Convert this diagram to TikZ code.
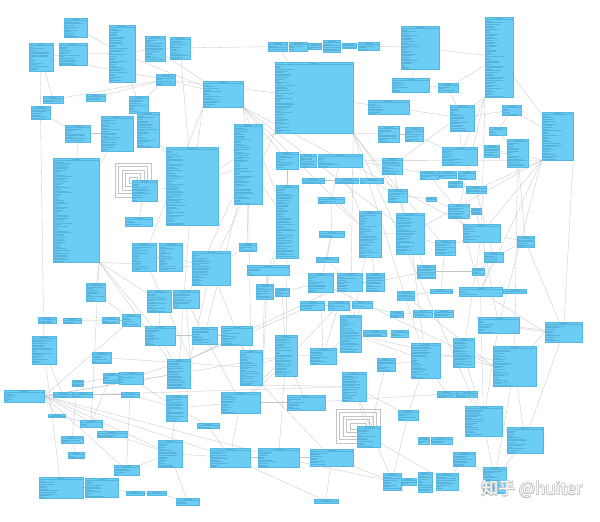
\documentclass[tikz,border=0pt]{standalone}
\usepackage{fontspec}
\usepackage{xcolor}
\definecolor{azulclase}{HTML}{6CCDF4}
\definecolor{azulborde}{HTML}{55B8E3}
\definecolor{azultexto}{HTML}{22628F}
\definecolor{grislinea}{HTML}{C2C4C8}
\newfontfamily\cjk{Noto Sans CJK SC}
\usepackage{tikz}
\usetikzlibrary{fit, backgrounds}

\newcommand{\marca}[1]{%
  \foreach \dx/\dy in {-.6/0,.6/0,0/-.6,0/.6,.5/.5,-.5/-.5,.5/-.5,-.5/.5}
    \node[wm, text=gray!50] at ([shift={(\dx,\dy)}]#1) {\cjk 知乎 @huiter};
  \node[wm, text=white] at (#1) {\cjk 知乎 @huiter};}

\begin{document}
\pgfmathsetseed{11}
\begin{tikzpicture}[
  x=1pt, y=-1pt,
  txt/.style={azultexto, opacity=0.25, line width=0.3pt},
  cls/.style={
    rectangle, draw=azulborde, fill=azulclase,
    line width=0.3pt, inner sep=0pt,
    path picture={
      \draw[txt] ([xshift=-4pt,yshift=-1.3pt]path picture bounding box.north) -- ++(8,0);
      \draw[txt] ([yshift=-2.6pt]path picture bounding box.north west)
        -- ([yshift=-2.6pt]path picture bounding box.north east);
      \foreach \k in {0,...,62}{
        \pgfmathsetmacro\len{3+16*rnd}
        \draw[txt] ([xshift=1pt,yshift=-4pt-\k*1.6pt]path picture bounding box.north west)
          -- ++(\len,0);
      }
    }
  },
  edge/.style={grislinea, line width=0.3pt},
  wm/.style={font=\fontsize{17}{17}\selectfont, inner sep=0pt}
]
  \useasboundingbox (0,0) rectangle (600,522);

  % clases
  \foreach \n/\xa/\ya/\xb/\yb in {
     1/64/18/87/37,     2/109/25/135/82,    3/29/43/53/71,      4/59/43/87/65,
     5/145/36/165/61,   6/170/37/190/59,    7/268/42/287/51,    8/289/42/307/51,
     9/308/43/321/49,   10/323/40/340/52,   11/342/43/356/48,   12/358/42/379/50,
     13/275/62/353/133, 14/401/26/439/69,   15/485/17/513/97,   16/156/74/175/85,
     17/203/81/243/107, 18/43/96/63/103,    19/86/94/105/101,   20/129/96/148/113,
     21/31/106/50/119,  22/65/125/90/142,   23/101/116/133/151, 24/137/112/159/147,
     25/392/78/429/92,  26/438/83/458/92,   27/368/100/409/114, 28/450/105/474/131,
     29/502/105/521/115,30/542/112/573/160, 31/234/124/262/204, 32/378/126/399/142,
     33/405/127/423/141,34/489/127/506/135, 35/484/145/499/157, 36/507/139/528/167,
     37/442/147/477/165,38/276/152/298/169, 39/300/154/316/167, 40/318/154/362/167,
     41/382/158/402/174,42/53/158/99/262,   43/166/147/218/225, 44/132/180/157/201,
     45/276/185/298/258,46/302/178/324/183, 47/335/178/358/183, 48/360/178/383/183,
     49/420/171/438/179,50/439/171/456/178, 51/458/171/475/179, 52/448/181/462/187,
     53/466/186/486/193,54/388/189/407/202, 55/426/197/436/201, 56/318/197/344/203,
     57/448/204/469/218,58/471/208/481/214, 59/359/211/381/257, 60/396/213/424/254,
     61/125/217/152/226,62/463/224/500/242, 63/517/236/534/247, 64/319/231/344/237,
     65/435/240/455/255,66/239/243/256/251, 67/132/243/156/271, 68/159/243/182/271,
     69/192/251/230/285,70/484/252/503/262, 71/316/257/338/262, 72/247/265/289/275,
     73/417/265/435/278,74/472/268/484/275, 75/308/273/333/292, 76/337/273/362/291,
     77/366/273/384/291,78/86/283/105/301,  79/256/284/273/299, 80/275/288/289/296,
     81/147/290/171/312,82/173/290/199/308, 83/397/291/414/300, 84/430/289/452/293,
     85/459/287/502/296,86/503/289/526/293, 87/300/301/324/310, 88/328/301/349/310,
     89/352/301/372/308,90/390/311/403/317, 91/413/310/432/317, 92/434/310/453/317,
     93/38/317/56/323,  94/63/318/81/323,   95/102/317/119/323, 96/122/314/140/326,
     97/478/317/519/333,98/545/322/582/342, 99/340/315/361/352, 100/145/326/175/345,
     101/192/327/217/344,102/221/326/252/345,103/363/330/386/336,104/391/330/408/337,
     105/32/336/56/364, 106/275/335/297/376,107/411/343/440/378,108/453/338/474/367,
     109/493/346/536/386,110/310/348/336/364,111/92/352/111/363,112/167/359/190/388,
     113/240/350/262/385,114/377/358/395/371,115/342/372/366/401,116/72/380/83/386,
     117/103/373/118/383,118/119/372/143/384,119/4/390/44/402,  120/53/392/72/397,
     121/73/392/92/397, 122/121/392/139/397,123/166/395/187/421,124/221/392/260/413,
     125/287/395/325/410,126/437/391/456/397,127/457/391/477/397,128/465/406/502/436,
     129/398/410/418/420,130/48/414/65/417, 131/80/420/102/427, 132/197/423/219/428,
     133/97/431/127/437,134/357/426/380/447,135/507/427/543/453,136/61/436/83/443,
     137/418/437/429/444,138/431/437/452/444,139/158/440/182/467,140/68/452/84/458,
     141/210/448/250/467,142/258/448/299/467,143/310/449/353/466,144/453/452/475/466,
     145/114/465/139/475,146/483/467/506/493,147/383/473/401/490,148/402/478/416/485,
     149/418/472/432/492,150/436/473/458/490,151/39/477/83/498, 152/85/478/118/497,
     153/126/491/144/495,154/147/491/166/495,155/176/498/199/505,156/314/499/338/503}
    \node[cls, fit={(\xa,\ya) (\xb,\yb)}] (c\n) {};

  \begin{scope}[on background layer]
    \fill[white] (0,0) rectangle (600,522);
    % asociaciones
    \foreach \a/\b in {
        c1/c2, c4/c2, c3/c4, c2/c5, c5/c6, c6/c7, c7/c8, c8/c9, c9/c10, c10/c11,
        c11/c12, c12/c14, c14/c15, c3/c18, c3/c16, c18/c16, c19/c16, c2/c20,
        c21/c22, c22/c23, c23/c24, c20/c24, c16/c13, c16/c17, c14/c25, c25/c26,
        c26/c15, c26/c28, c27/c13, c27/c28, c28/c29, c29/c30, c32/c33, c33/c37,
        c34/c36, c35/c36, c37/c36, c38/c39, c39/c40, c40/c41, c41/c49, c49/c50,
        c50/c51, c51/c52, c52/c53, c46/c47, c47/c48, c48/c54, c54/c55, c55/c57,
        c57/c58, c56/c59, c59/c60, c60/c65, c65/c62, c62/c63, c63/c70, c64/c71,
        c66/c69, c67/c68, c68/c69, c61/c44, c44/c43, c43/c31, c31/c45, c45/c38,
        c72/c79, c79/c80, c80/c75, c75/c76, c76/c77, c77/c73, c73/c74, c74/c70,
        c83/c84, c84/c85, c85/c86, c87/c88, c88/c89, c89/c90, c90/c91, c91/c92,
        c93/c94, c94/c95, c95/c96, c96/c100, c100/c101, c101/c102, c103/c104,
        c97/c98, c111/c113, c113/c106, c106/c110, c110/c99, c99/c107, c107/c108,
        c108/c109, c116/c117, c117/c118, c119/c120, c120/c121, c121/c122,
        c122/c123, c123/c124, c124/c125, c125/c126, c126/c127, c127/c128,
        c129/c115, c115/c134, c132/c141, c130/c131, c131/c133, c136/c140,
        c133/c139, c139/c141, c141/c142, c142/c143, c143/c147, c147/c148,
        c148/c149, c149/c150, c150/c144, c144/c146, c146/c135, c135/c128,
        c137/c138, c151/c152, c152/c153, c153/c154, c154/c155, c145/c139,
        c156/c143, c21/c105, c105/c151, c3/c21, c2/c17, c6/c43, c13/c7}
      \draw[edge] (\a) -- (\b);
    \foreach \a/\b in {
        c17.south east/c31, c17.south east/c45, c17.south east/c59,
        c17.south east/c60, c17.south east/c38, c17.south east/c62,
        c17.south west/c67, c17.south west/c43,
        c13.south east/c32, c13.south east/c54, c13.south east/c65,
        c13.south east/c99, c13.south east/c107, c13.south west/c69,
        c13.south west/c43, c15.south west/c37, c15.south west/c57,
        c15.south west/c62, c15.south west/c41, c30.south west/c36,
        c30.south west/c53, c30.south west/c62, c30.south west/c60,
        c30.south west/c40, c30.south west/c85, c30.south west/c97,
        c30.south east/c98, c42.south east/c78, c42.south east/c81,
        c42.south east/c100, c42.south east/c112, c42.south east/c131,
        c42.south east/c69, c112.north east/c82, c112.north east/c102,
        c112.north east/c69, c112.north east/c76, c112.north east/c87,
        c112.north east/c118, c112.north east/c67, c113.south east/c124,
        c113.south east/c115, c113.south east/c143, c113.south east/c79,
        c113.south east/c72, c113.south east/c88, c119.east/c130,
        c119.east/c133, c119.east/c139, c119.east/c141, c119.east/c145,
        c119.east/c106, c119.east/c112, c119.east/c115, c119.east/c96,
        c119.east/c142, c109.west/c99, c109.west/c75, c109.west/c83,
        c109/c135, c128/c146, c98.west/c85, c98.west/c97, c98.west/c109,
        c98/c63, c31/c101, c31/c66, c31/c82, c45/c72, c45/c79, c59/c77,
        c59/c99, c60/c107, c60/c73, c62/c108, c62/c97, c57/c85, c65/c84,
        c106/c142, c106/c125, c107/c129, c99/c103, c114/c134, c115/c147,
        c108/c128, c109/c146, c123/c139, c124/c141, c102/c113, c100/c112,
        c81/c100, c82/c101, c78/c96, c105/c120, c116/c136, c118/c123,
        c122/c145, c117/c131, c40/c56, c56/c64, c64/c75, c71/c76, c24/c43,
        c23/c42, c22/c42, c20/c16, c5/c17, c31/c113, c43/c112, c45/c106,
        c13.south east/c128, c36/c109, c28/c37, c29/c34, c15/c30, c36/c63,
        c97/c128, c135/c98, c85/c128, c114/c107, c134/c150, c129/c147,
        c126/c107, c88/c110, c89/c99, c75/c110, c124/c106, c132/c123,
        c139/c155, c141/c156, c142/c147, c101/c124, c69/c113, c80/c106,
        c54/c60, c49/c57, c41/c60, c47/c59, c58/c62, c53/c70, c70/c85}
      \draw[edge] (\a) -- (\b);
    % lazos reflexivos
    \foreach \s in {3,6.5,...,17}{
      \draw[edge] ([shift={(-\s,-\s)}]c44.north west) rectangle ([shift={(\s+2,\s)}]c44.north west);
      \draw[edge] ([shift={(-\s-4,-\s)}]c134.north west) rectangle ([shift={(\s+6,\s)}]c134.north west);
    }
  \end{scope}

  \coordinate (firma) at (532,489);
  \marca{firma}
\end{tikzpicture}
\end{document}
